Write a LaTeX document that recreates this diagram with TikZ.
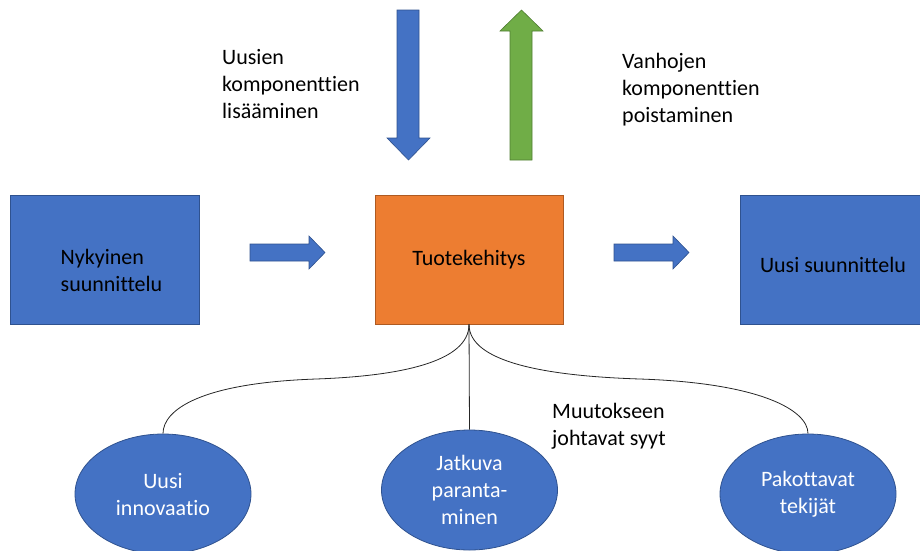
\documentclass[tikz,border=0pt]{standalone}
\usepackage{fontspec}
\setmainfont{Carlito}[Ligatures=NoCommon]
\definecolor{stageblue}{RGB}{68, 114, 196}
\definecolor{stageedge}{RGB}{47, 82, 143}
\definecolor{devorange}{RGB}{237, 125, 49}
\definecolor{devedge}{RGB}{174, 90, 33}
\definecolor{outgreen}{RGB}{112, 173, 71}
\definecolor{outedge}{RGB}{80, 126, 50}
\usepackage{tikz}
\usetikzlibrary{shapes.geometric, positioning, calc}

\begin{document}
\begin{tikzpicture}[x=1pt, y=-1pt,
  every node/.style={font=\fontsize{22}{27}\selectfont},
  stagebox/.style={draw=stageedge, fill=stageblue, line width=0.8pt, minimum width=189pt, minimum height=129pt, align=left},
  devbox/.style={draw=devedge, fill=devorange, line width=0.8pt, minimum width=188pt, minimum height=129pt},
  causeball/.style={ellipse, draw=stageedge, fill=stageblue, line width=0.8pt, minimum width=176pt, minimum height=120pt, text=white, align=center},
  flowarrow/.style={draw=stageedge, fill=stageblue, line width=0.6pt},
  outarrow/.style={draw=outedge, fill=outgreen, line width=0.6pt},
  sidetext/.style={anchor=west, inner sep=0pt, align=left},
  causeline/.style={draw=black!85, line width=0.8pt}
]
  \useasboundingbox (0,0) rectangle (920,550);

  \node[stagebox] (current) at (104.5,259.5) {};
  \node[align=left] (currenttext) at ($(current.center)+(7,11)$) {Nykyinen\\suunnittelu};
  \node[devbox] (dev) at (469,259.5) {Tuotekehitys};
  \node[stagebox, minimum width=180pt] (new) at (830,259.5) {};
  \node (newtext) at ($(new.center)+(3,5)$) {Uusi suunnittelu};

  \draw[flowarrow] (250,244) -- (309,244) -- (309,236) -- (325,252.5) -- (309,269) -- (309,261) -- (250,261) -- cycle;
  \draw[flowarrow] (614,244) -- (673,244) -- (673,236) -- (689,252.5) -- (673,269) -- (673,261) -- (614,261) -- cycle;

  \draw[flowarrow] (397,10) -- (419,10) -- (419,138) -- (430,138) -- (408.5,160) -- (387,138) -- (397,138) -- cycle;
  \draw[outarrow] (510,160) -- (532,160) -- (532,31) -- (543,31) -- (521.5,10) -- (500,31) -- (510,31) -- cycle;

  \node[sidetext] (addlabel) at (222,84) {Uusien\\komponenttien\\lisääminen};
  \node[sidetext] (removelabel) at (622,90) {Vanhojen\\komponenttien\\poistaminen};
  \node[sidetext] (causelabel) at (552,426) {Muutokseen\\johtavat syyt};

  \node[causeball] (innovation) at (163,494) {Uusi\\innovaatio};
  \node[causeball] (improve) at (469.5,490) {Jatkuva\\paranta-\\minen};
  \node[causeball] (forcing) at (808,494) {Pakottavat\\tekijät};

  \coordinate (split) at (dev.south);
  \draw[causeline] (split) -- (improve.north);
  \draw[causeline] (split) .. controls (469,362) and (400,376) .. (316,379) .. controls (200,383) and (163,410) .. (innovation.north);
  \draw[causeline] (split) .. controls (469,362) and (545,376) .. (640,379) .. controls (760,383) and (808,410) .. (forcing.north);
\end{tikzpicture}
\end{document}
